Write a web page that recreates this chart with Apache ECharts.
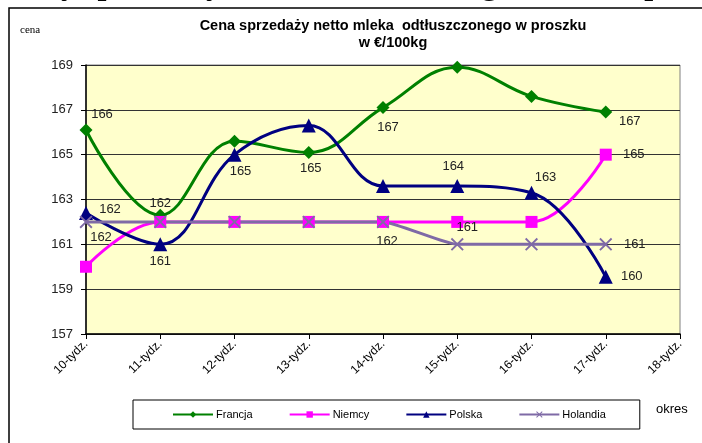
<!DOCTYPE html>
<html>
<head>
<meta charset="utf-8">
<script src="https://cdn.jsdelivr.net/npm/echarts@6/dist/echarts.min.js"></script>
<style>
  html, body { margin: 0; padding: 0; background: #fff; }
  #chart { width: 702px; height: 443px; }
</style>
</head>
<body>
<div id="chart"></div>
<script>
// dane z wykresu
const weeks = ["10-tydz.", "11-tydz.", "12-tydz.", "13-tydz.", "14-tydz.", "15-tydz.", "16-tydz.", "17-tydz.", "18-tydz."];
const francja = [166.1, 162.3, 165.6, 165.1, 167.1, 168.9, 167.6, 166.9];
const niemcy = [160.0, 162.0, 162.0, 162.0, 162.0, 162.0, 162.0, 165.0];
const polska = [162.4, 161.0, 165.0, 166.3, 163.6, 163.6, 163.3, 159.55];
const holandia = [162, 162, 162, 162, 162, 161, 161, 161];
const yTicks = [157, 159, 161, 163, 165, 167, 169];

// ktore punkty maja etykiete i gdzie ja przesunac
const labelSpots = {
  Francja: { 0: [16, -16], 1: [0, -12], 3: [2, 16], 4: [5, 20], 7: [24, 9] },
  Niemcy: { 7: [28, 0] },
  Polska: { 0: [24, -4], 1: [0, 17], 2: [6, 17], 5: [-4, -20], 6: [14, -15], 7: [26, 0] },
  Holandia: { 0: [15, 16], 4: [4, 20], 5: [10, -17], 7: [29, 0] },
};

const crossPath = "path://M0,1L1,0L5,4L9,0L10,1L6,5L10,9L9,10L5,6L1,10L0,9L4,5Z";

function makeSeries(name, values, color, symbol, size, smooth) {
  const spots = labelSpots[name];
  return {
    name: name,
    type: "line",
    smooth: smooth,
    symbol: symbol,
    symbolSize: size,
    lineStyle: { color: color, width: 3 },
    itemStyle: { color: color },
    data: values.map((v, i) => {
      const item = { value: v };
      if (spots[i]) {
        item.label = {
          show: true,
          position: "inside",
          offset: spots[i],
          formatter: (p) => Math.round(p.value),
          color: "#222",
          fontSize: 13,
          fontFamily: "Liberation Sans, Arial",
        };
      }
      return item;
    }),
  };
}

const chart = echarts.init(document.getElementById("chart"));
chart.setOption({
  animation: false,
  backgroundColor: "#fff",
  title: {
    text: "Cena sprzedaży netto mleka  odtłuszczonego w proszku\nw €/100kg",
    left: 388,
    top: 12,
    textAlign: "center",
    textStyle: {
      fontFamily: "Liberation Sans, Arial",
      fontWeight: "bold",
      fontSize: 14.5,
      lineHeight: 17,
      color: "#000",
    },
  },
  graphic: [
    {
      type: "text",
      left: 6,
      top: -30,
      style: {
        text: "Ceny sprzedaży netto odtłuszczonego mleka w proszku",
        font: "bold 32px 'Liberation Serif'",
        fill: "#000",
      },
    },
    {
      type: "rect",
      shape: { x: 9, y: 8, width: 800, height: 500 },
      style: { fill: "none", stroke: "#000", lineWidth: 1.5 },
      z: 0,
    },
    {
      type: "text",
      left: 20,
      top: 25,
      style: { text: "cena", font: "11px 'Liberation Serif'", fill: "#000" },
    },
    {
      type: "text",
      left: 656,
      top: 403,
      style: { text: "okres", font: "13px 'Liberation Sans'", fill: "#000" },
    },
  ],
  legend: {
    left: 133,
    top: 400,
    padding: [9, 34, 9, 39],
    borderColor: "#000",
    borderWidth: 1,
    itemWidth: 40,
    itemHeight: 8,
    itemGap: 36,
    textStyle: { fontSize: 11, fontFamily: "Liberation Sans, Arial", color: "#000", padding: [0, 0, 0, -2] },
    data: ["Francja", "Niemcy", "Polska", "Holandia"],
  },
  grid: {
    left: 86,
    right: 22,
    top: 65,
    bottom: 109,
    show: true,
    backgroundColor: "#FFFFCC",
    borderColor: "#808080",
    borderWidth: 1,
  },
  xAxis: {
    type: "category",
    data: weeks,
    boundaryGap: false,
    axisLine: { lineStyle: { color: "#000", width: 1.5 } },
    axisTick: { alignWithLabel: true, length: 5, lineStyle: { color: "#000" } },
    axisLabel: {
      rotate: 45,
      margin: 8,
      fontSize: 12,
      fontFamily: "Liberation Sans, Arial",
      color: "#000",
      interval: 0,
    },
  },
  yAxis: {
    type: "value",
    min: yTicks[0],
    max: yTicks[yTicks.length - 1],
    interval: 2,
    axisLine: { show: true, lineStyle: { color: "#000", width: 1.5 } },
    axisTick: { show: true, length: 5, lineStyle: { color: "#000" } },
    axisLabel: { fontSize: 13, fontFamily: "Liberation Sans, Arial", color: "#222", margin: 13 },
    splitLine: { lineStyle: { color: "#333", width: 1 } },
  },
  series: [
    makeSeries("Francja", francja, "#008000", "diamond", 13, 0.4),
    makeSeries("Niemcy", niemcy, "#FF00FF", "rect", 12, 0.4),
    makeSeries("Polska", polska, "#000080", "triangle", 14, 0.4),
    makeSeries("Holandia", holandia, "#7F6AA6", crossPath, 13, 0.15),
  ],
});
</script>
</body>
</html>
